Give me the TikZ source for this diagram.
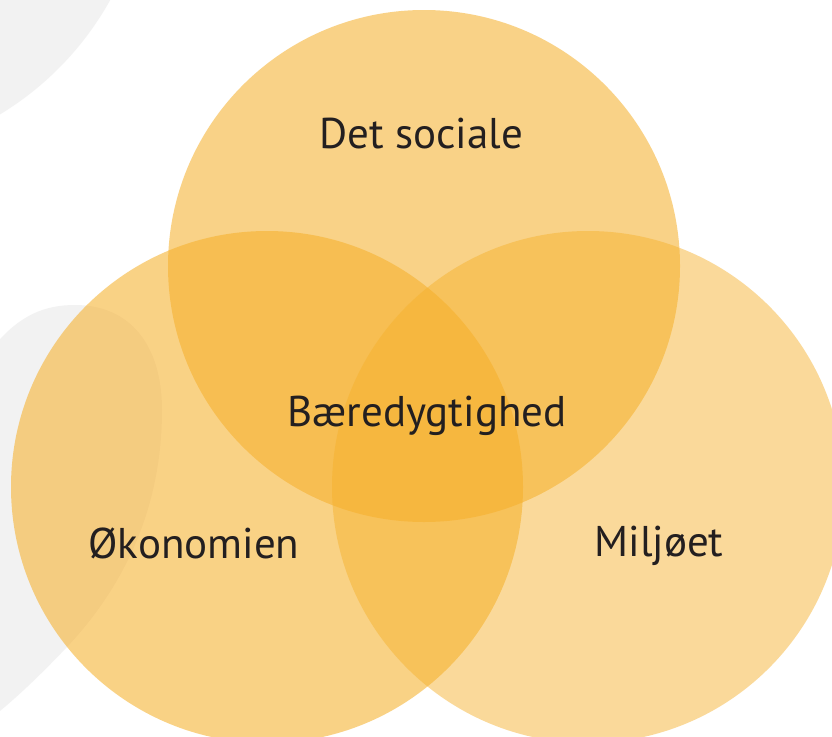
\documentclass[tikz,border=0pt]{standalone}
\usepackage{fontspec}
\setmainfont{PT Sans}
\definecolor{vorange}{RGB}{246,176,42}
\definecolor{vgray}{RGB}{242,242,242}
\definecolor{vtext}{RGB}{35,31,32}
\tikzset{
  venn/.style={fill=vorange, fill opacity=#1, draw=none},
  lbl/.style={text=vtext, font=\fontsize{43}{43}\selectfont, anchor=base, inner sep=0pt},
  blob/.style={fill=vgray, draw=none}
}
\begin{document}
\begin{tikzpicture}[x=1pt,y=-1pt]
\useasboundingbox (0,0) rectangle (832,736);
\clip (0,0) rectangle (832,736);
\fill[white] (0,0) rectangle (832,736);
% background grey shapes
\fill[blob] (-160,-150) circle[radius=309];
\fill[blob] (-5,345) .. controls (20,315) and (45,305) .. (75,305)
  .. controls (130,305) and (162,345) .. (162,410)
  .. controls (162,500) and (130,580) .. (67,647)
  .. controls (45,670) and (20,695) .. (-5,715) -- cycle;
% circles
\fill[venn=0.56] (424,266) circle[radius=256];
\fill[venn=0.57] (267,487) circle[radius=256];
\fill[venn=0.47] (588,487) circle[radius=256];
% labels
\node[lbl] (social) at (421,148) {Det sociale};
\node[lbl] (core) at (427,426) {Bæredygtighed};
\node[lbl] (econ) at (194,558) {Økonomien};
\node[lbl] (env) at (659,556) {Miljøet};
\end{tikzpicture}
\end{document}
